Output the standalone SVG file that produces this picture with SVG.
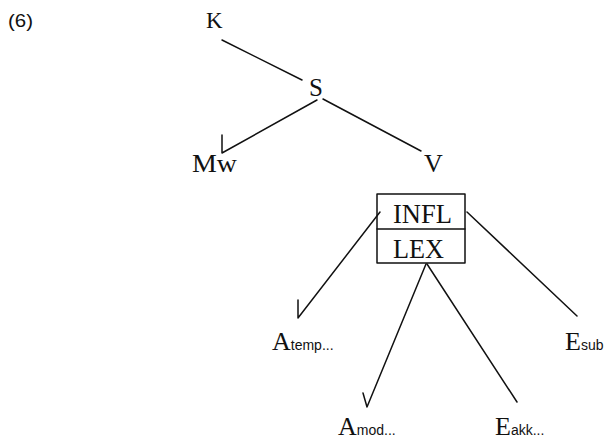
<svg xmlns="http://www.w3.org/2000/svg" width="609" height="441" viewBox="0 0 609 441">
<style>
.t{font-family:"Liberation Serif","Times New Roman",serif;fill:#111;}
.s{font-family:"Liberation Sans",Arial,sans-serif;fill:#111;}
.ln{stroke:#111;stroke-width:1.5;fill:none;stroke-linecap:round;stroke-linejoin:round;}
</style>
<rect width="609" height="441" fill="#fff"/>
<text class="s" x="8" y="27" font-size="19" textLength="25" lengthAdjust="spacingAndGlyphs">(6)</text>
<g id="connectors">
<line class="ln" x1="222" y1="40" x2="302" y2="80"/>
<polyline class="ln" points="317,100 222,153 222,135"/>
<line class="ln" x1="323" y1="99" x2="421" y2="151"/>
<polyline class="ln" points="380,212 298,318 298,300"/>
<line class="ln" x1="467" y1="212" x2="577" y2="316"/>
<polyline class="ln" points="426,264 367,407 363,393"/>
<line class="ln" x1="427" y1="264" x2="517" y2="402"/>
</g>
<g id="K"><text class="t" x="206" y="28" font-size="23">K</text></g>
<g id="S"><text class="t" x="309" y="96" font-size="25">S</text></g>
<g id="Mw"><text class="t" x="192" y="172" font-size="25" textLength="45" lengthAdjust="spacingAndGlyphs">Mw</text></g>
<g id="V"><text class="t" x="424" y="172" font-size="26">V</text></g>
<g id="V-box">
<rect class="ln" x="377" y="194" width="88" height="69"/>
<line class="ln" x1="377" y1="229" x2="465" y2="229"/>
<text class="t" x="393" y="223" font-size="27" textLength="59" lengthAdjust="spacingAndGlyphs">INFL</text>
<text class="t" x="393" y="258" font-size="27" textLength="51" lengthAdjust="spacingAndGlyphs">LEX</text>
</g>
<g id="Atemp"><text class="t" x="272" y="350" font-size="26">A<tspan class="s" font-size="14">temp...</tspan></text></g>
<g id="Esub"><text class="t" x="565" y="350" font-size="26">E<tspan class="s" font-size="14">sub</tspan></text></g>
<g id="Amod"><text class="t" x="338" y="435" font-size="26">A<tspan class="s" font-size="14">mod...</tspan></text></g>
<g id="Eakk"><text class="t" x="495" y="435" font-size="26">E<tspan class="s" font-size="14">akk...</tspan></text></g>
</svg>
